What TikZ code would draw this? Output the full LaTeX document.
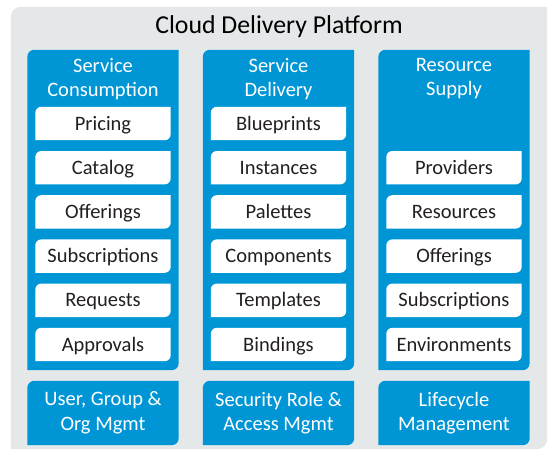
\documentclass[tikz,border=0pt]{standalone}
\usepackage{fontspec}
\setmainfont{Carlito}
\usetikzlibrary{backgrounds}
\definecolor{hpblue}{HTML}{0096D6}
\definecolor{panelgray}{HTML}{E5E8E9}
\definecolor{inkdark}{HTML}{231F20}
% fill a node's outline, rounded only at north east and south west
\newcommand\leaf[3][7pt]{\fill[#2] (#3.north) -- (#3.north east) [rounded corners=#1] -- (#3.south east) [sharp corners] -- (#3.south west) [rounded corners=#1] -- (#3.north west) [sharp corners] -- cycle;}

\begin{document}
\begin{tikzpicture}[x=1pt,y=-1pt,
	panel/.style={inner sep=0pt,minimum width=151pt,minimum height=320pt},
	foot/.style={inner sep=0pt,minimum width=151pt,minimum height=64pt,align=center,text=white,font=\fontsize{20.5}{24.5}\selectfont},
	head/.style={inner sep=0pt,align=center,text=white,font=\fontsize{20.5}{24}\selectfont},
	item/.style={inner sep=0pt,minimum width=135pt,minimum height=33pt,text height=13pt,text depth=0pt,text=inkdark,font=\fontsize{20.5}{22}\selectfont}]
	%%%%% START %%%%%
	\def\xa{103}
	\def\xb{278.5}
	\def\xc{454}
	\def\ytop{123.5}
	\def\dy{44.2}
	\useasboundingbox (0,0) rectangle (553,452);

	\node[inner sep=0pt,minimum width=536pt,minimum height=442pt] (platform) at (279,228) {};
	\node[font=\fontsize{25.8}{28}\selectfont,text=black] (title) at (279,27) {Cloud Delivery Platform};

	\node[panel] (cons) at (\xa,210) {};
	\node[panel] (deliv) at (\xb,210) {};
	\node[panel] (supply) at (\xc,210) {};

	\node[head] (conshead) at (\xa,79) {Service\\Consumption};
	\node[head] (delivhead) at (\xb,79) {Service\\Delivery};
	\node[head] (supplyhead) at (\xc,79) {Resource\\Supply};

	\foreach \t [count=\i] in {Pricing,Catalog,Offerings,Subscriptions,Requests,Approvals}
		\node[item] (cons\i) at (\xa,{\ytop+\dy*(\i-1)}) {\t};
	\foreach \t [count=\i] in {Blueprints,Instances,Palettes,Components,Templates,Bindings}
		\node[item] (deliv\i) at (\xb,{\ytop+\dy*(\i-1)}) {\t};
	\foreach \t [count=\i from 2] in {Providers,Resources,Offerings,Subscriptions,Environments}
		\node[item] (supply\i) at (\xc,{\ytop+\dy*(\i-1)}) {\t};

	\node[foot] (usermgmt) at (\xa,413) {User, Group \&\\Org Mgmt};
	\node[foot] (accessmgmt) at (\xb,413) {Security Role \&\\Access Mgmt};
	\node[foot] (lifecycle) at (\xc,413) {Lifecycle\\Management};

	\begin{pgfonlayer}{background}
		\leaf[10pt]{panelgray}{platform}
		\leaf{hpblue}{cons}
		\leaf{hpblue}{deliv}
		\leaf{hpblue}{supply}
		\leaf{hpblue}{usermgmt}
		\leaf{hpblue}{accessmgmt}
		\leaf{hpblue}{lifecycle}
		\foreach \i in {1,...,6} {\leaf[6pt]{white}{cons\i}}
		\foreach \i in {1,...,6} {\leaf[6pt]{white}{deliv\i}}
		\foreach \i in {2,...,6} {\leaf[6pt]{white}{supply\i}}
	\end{pgfonlayer}
	%%%%% END %%%%%
\end{tikzpicture}
\end{document}
